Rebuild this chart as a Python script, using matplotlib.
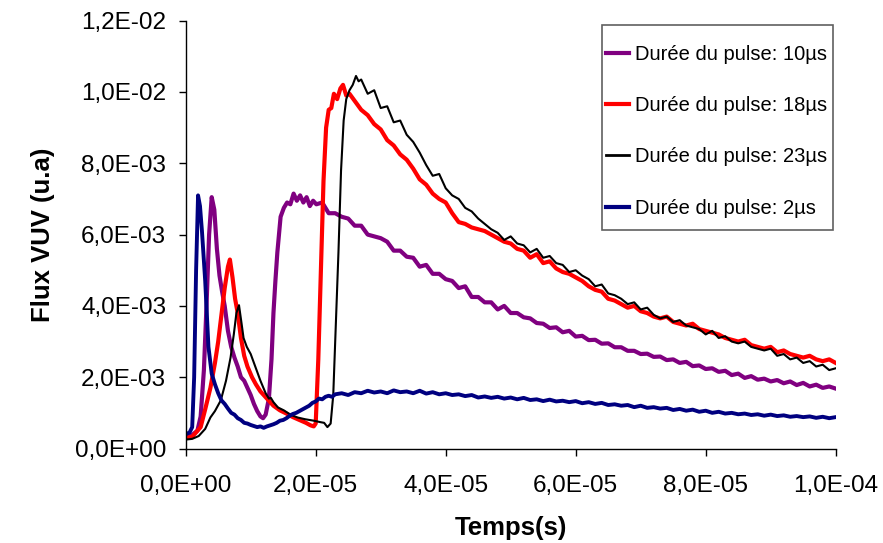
import matplotlib
matplotlib.use("Agg")
import matplotlib.pyplot as plt
from matplotlib.ticker import FuncFormatter, MultipleLocator
from matplotlib.patches import Rectangle

plt.rcParams['font.family'] = ['Liberation Sans', 'DejaVu Sans']

labels = ["Durée du pulse: 10µs", "Durée du pulse: 18µs",
          "Durée du pulse: 23µs", "Durée du pulse: 2µs"]

# time in microseconds, flux in units of 1e-3
t_purple = [0, 1, 1.8, 2.3, 2.8, 3.2, 3.6, 4.0, 4.4, 4.8, 5.2, 5.6, 6.0, 6.5, 7.0, 7.5, 8.0, 8.5, 9.0, 9.5,
            10.0, 10.5, 11.0, 11.5, 11.9, 12.3, 12.8, 13.2, 13.5, 13.8, 14.1, 14.6, 15.1, 15.6, 16.1, 16.6,
            17.1, 17.6, 18.1, 18.6, 19.1, 19.6, 20.1,
            21, 22, 23, 24, 25, 26, 27, 28, 29, 30, 31, 32, 33, 34, 35, 36, 37, 38, 39, 40,
            41, 42, 43, 44, 45, 46, 47, 48, 49, 50, 51, 52, 53, 54, 55, 56, 57, 58, 59, 60,
            61, 62, 63, 64, 65, 66, 67, 68, 69, 70, 71, 72, 73, 74, 75, 76, 77, 78, 79, 80,
            81, 82, 83, 84, 85, 86, 87, 88, 89, 90, 91, 92, 93, 94, 95, 96, 97, 98, 99, 100]
f_purple = [0.35, 0.38, 0.5, 0.9, 2.2, 4.0, 6.0, 7.05, 6.7, 5.6, 4.85, 4.4, 4.0, 3.3, 2.85, 2.55, 2.3, 2.0, 1.9, 1.7,
            1.5, 1.25, 1.05, 0.9, 0.85, 0.95, 1.4, 2.5, 3.8, 4.7, 5.5, 6.5, 6.75, 6.9, 6.85, 7.15,
            6.95, 7.1, 6.9, 7.05, 6.8, 6.95, 6.85,
            6.9, 6.6, 6.6, 6.5, 6.45, 6.25, 6.25, 6.0, 5.95, 5.9, 5.8, 5.55, 5.55, 5.38, 5.35, 5.1, 5.15, 4.9, 4.9, 4.75,
            4.7, 4.5, 4.55, 4.25, 4.25, 4.1, 4.1, 3.9, 4.0, 3.8, 3.8, 3.68, 3.65, 3.52, 3.5, 3.38, 3.4, 3.26, 3.3, 3.14,
            3.16, 3.04, 3.05, 2.94, 2.95, 2.84, 2.84, 2.74, 2.74, 2.65, 2.66, 2.57, 2.58, 2.48, 2.5, 2.4, 2.43, 2.31, 2.33, 2.23,
            2.25, 2.15, 2.18, 2.06, 2.1, 1.98, 2.03, 1.93, 1.96, 1.88, 1.92, 1.83, 1.88, 1.78, 1.84, 1.74, 1.79, 1.7, 1.74, 1.68]

t_red = [0, 1, 2.3, 3.0, 3.8, 4.5, 5.0, 5.4, 6.0, 6.5, 6.8, 7.2, 7.6, 8.0, 8.5, 9.0, 9.5, 10.2, 10.8, 11.5,
         12.5, 13.5, 14.5, 15.5, 16.5, 17.5, 18.5, 19.2, 19.7, 20.0, 20.4, 20.8, 21.2, 21.6, 22.0, 22.4,
         22.8, 23.3, 23.8, 24.2, 24.7, 25.2,
         26, 27, 28, 29, 30, 31, 32, 33, 34, 35, 36, 37, 38, 39, 40,
         41, 42, 43, 44, 45, 46, 47, 48, 49, 50, 51, 52, 53, 54, 55, 56, 57, 58, 59, 60,
         61, 62, 63, 64, 65, 66, 67, 68, 69, 70, 71, 72, 73, 74, 75, 76, 77, 78, 79, 80,
         81, 82, 83, 84, 85, 86, 87, 88, 89, 90, 91, 92, 93, 94, 95, 96, 97, 98, 99, 100]
f_red = [0.3, 0.33, 0.6, 1.1, 1.7, 2.4, 3.0, 3.6, 4.5, 5.1, 5.3, 4.8, 4.2, 3.8, 3.1, 2.6, 2.3, 2.0, 1.8, 1.6,
         1.4, 1.2, 1.07, 0.98, 0.88, 0.8, 0.72, 0.65, 0.62, 0.7, 2.5, 5.0, 7.5, 9.0, 9.5, 9.55,
         9.95, 9.8, 10.1, 10.2, 9.9, 9.95,
         9.75, 9.5, 9.35, 9.1, 8.95, 8.65, 8.5, 8.25, 8.1, 7.85, 7.55, 7.4, 7.15, 7.0, 6.9,
         6.6, 6.35, 6.3, 6.2, 6.15, 6.1, 6.0, 5.9, 5.8, 5.75, 5.6, 5.55, 5.35, 5.45, 5.2, 5.25, 5.05, 4.95, 4.9, 4.8,
         4.7, 4.55, 4.45, 4.4, 4.2, 4.15, 4.05, 3.95, 4.0, 3.85, 3.8, 3.7, 3.65, 3.7, 3.55, 3.5, 3.45, 3.5, 3.35, 3.3,
         3.25, 3.2, 3.1, 3.05, 3.0, 3.05, 2.9, 2.85, 2.8, 2.85, 2.7, 2.75, 2.65, 2.6, 2.55, 2.6, 2.5, 2.45, 2.5, 2.4]

t_black = [0, 1, 2, 3, 3.8, 4.5, 5.4, 6.2, 6.9, 7.4, 7.8, 8.2, 8.6, 8.9, 9.4, 10.0, 10.7, 11.5, 12.3, 12.8,
           13.1, 13.5, 14.2, 15.1, 16.1, 17.2, 18.4, 19.7, 20.7, 21.3, 21.8, 22.3, 22.7, 23.1, 23.5, 23.9,
           24.3, 24.7, 25.2, 25.7, 26.2, 26.6,
           27, 28, 29, 30, 31, 32, 33, 34, 35, 36, 37, 38, 39, 40,
           41, 42, 43, 44, 45, 46, 47, 48, 49, 50, 51, 52, 53, 54, 55, 56, 57, 58, 59, 60,
           61, 62, 63, 64, 65, 66, 67, 68, 69, 70, 71, 72, 73, 74, 75, 76, 77, 78, 79, 80,
           81, 82, 83, 84, 85, 86, 87, 88, 89, 90, 91, 92, 93, 94, 95, 96, 97, 98, 99, 100]
f_black = [0.25, 0.27, 0.35, 0.55, 0.87, 1.05, 1.35, 1.9, 2.55, 3.2, 3.8, 4.02, 3.5, 3.1, 2.85, 2.65, 2.3, 1.9, 1.55, 1.4,
           1.42, 1.3, 1.15, 1.07, 0.95, 0.87, 0.82, 0.78, 0.74, 0.72, 0.6, 0.7, 1.5, 3.5, 5.5, 7.8,
           9.2, 9.8, 10.05, 10.2, 10.45, 10.3,
           10.35, 9.95, 10.05, 9.55, 9.6, 9.15, 9.2, 8.8, 8.6, 8.3, 7.95, 7.65, 7.7, 7.3,
           7.1, 7.0, 6.75, 6.65, 6.45, 6.3, 6.15, 6.05, 5.85, 5.95, 5.75, 5.7, 5.5, 5.6, 5.35, 5.4, 5.2, 5.15, 4.95, 5.0,
           4.85, 4.75, 4.55, 4.6, 4.35, 4.3, 4.2, 4.05, 4.1, 3.9, 3.95, 3.75, 3.65, 3.7, 3.55, 3.6, 3.45, 3.4, 3.35, 3.2,
           3.3, 3.1, 3.15, 3.0, 2.95, 3.0, 2.85, 2.8, 2.75, 2.8, 2.6, 2.65, 2.5, 2.55, 2.4, 2.45, 2.3, 2.35, 2.2, 2.25]

t_blue = [0, 0.6, 1.0, 1.3, 1.6, 1.9, 2.2, 2.5, 3.0, 3.5, 4.0, 4.5, 5.0, 5.5, 6.0, 6.5, 7.0, 7.5, 8.0, 8.5,
          9.0, 9.5, 10.0, 10.5, 11.0, 11.5, 12.0, 12.5, 13, 13.5, 14, 14.5, 15, 15.5, 16, 16.5, 17, 17.5,
          18, 18.5, 19, 19.5, 20, 20.5, 21, 21.5, 22, 22.5, 23, 24, 25, 26, 27, 28, 29, 30,
          31, 32, 33, 34, 35, 36, 37, 38, 39, 40, 41, 42, 43, 44, 45, 46, 47, 48, 49, 50,
          51, 52, 53, 54, 55, 56, 57, 58, 59, 60, 61, 62, 63, 64, 65, 66, 67, 68, 69, 70,
          71, 72, 73, 74, 75, 76, 77, 78, 79, 80, 81, 82, 83, 84, 85, 86, 87, 88, 89, 90,
          91, 92, 93, 94, 95, 96, 97, 98, 99, 100]
f_blue = [0.4, 0.45, 0.6, 2.0, 5.0, 7.1, 6.8, 6.1, 4.7, 2.85, 2.1, 1.8, 1.55, 1.35, 1.25, 1.12, 1.0, 0.95, 0.85, 0.8,
          0.72, 0.7, 0.66, 0.63, 0.6, 0.62, 0.58, 0.62, 0.65, 0.68, 0.72, 0.78, 0.8, 0.85, 0.92, 0.97, 1.0, 1.05,
          1.1, 1.15, 1.2, 1.28, 1.32, 1.4, 1.38, 1.45, 1.48, 1.45, 1.52, 1.55, 1.5, 1.58, 1.55, 1.62, 1.57, 1.6,
          1.55, 1.63, 1.58, 1.6, 1.55, 1.62, 1.54, 1.58, 1.52, 1.55, 1.5, 1.52, 1.47, 1.5, 1.43, 1.46, 1.42, 1.45, 1.4, 1.43,
          1.38, 1.42, 1.36, 1.38, 1.33, 1.37, 1.32, 1.34, 1.3, 1.33, 1.27, 1.3, 1.25, 1.28, 1.22, 1.24, 1.2, 1.22, 1.16, 1.2,
          1.14, 1.16, 1.12, 1.14, 1.08, 1.11, 1.06, 1.09, 1.03, 1.06, 1.0, 1.03, 0.98, 1.0, 0.96, 0.98, 0.94, 0.96, 0.92, 0.95,
          0.91, 0.93, 0.89, 0.91, 0.88, 0.9, 0.86, 0.89, 0.85, 0.88]

series = [(t_purple, f_purple, '#800080', 3.0),
          (t_red, f_red, '#FF0000', 3.0),
          (t_black, f_black, '#000000', 1.5),
          (t_blue, f_blue, '#000080', 2.8)]

fig = plt.figure(figsize=(8.83, 5.43), dpi=100)
ax = fig.add_axes([185.7 / 883, 1 - 448.5 / 543, 650 / 883, 427.8 / 543])

for (t, f, c, lw), lab in zip(series, labels):
    ax.plot([v * 1e-6 for v in t], [v * 1e-3 for v in f], color=c, lw=lw, label=lab,
            solid_joinstyle='round')

ax.set_xlim(0, 1e-4)
ax.set_ylim(0, 0.012)
ax.xaxis.set_major_locator(MultipleLocator(2e-5))
ax.yaxis.set_major_locator(MultipleLocator(2e-3))
fmt = FuncFormatter(lambda v, p: f"{v:.1E}".replace('.', ','))
ax.xaxis.set_major_formatter(fmt)
ax.yaxis.set_major_formatter(fmt)
for s in ['top', 'right']:
    ax.spines[s].set_visible(False)
for s in ['left', 'bottom']:
    ax.spines[s].set_linewidth(1.0)
ax.tick_params(axis='both', direction='out', length=5, width=1, labelsize=17.5)
ax.tick_params(axis='y', pad=9)
ax.tick_params(axis='x', pad=14)

ax.set_xlabel("Temps(s)", fontsize=18.5, fontweight='bold', labelpad=14)
ax.set_ylabel("Flux VUV (u.a)", fontsize=18.5, fontweight='bold', labelpad=14)

fig.add_artist(Rectangle((602 / 883, 1 - 230 / 543), 231 / 883, 205 / 543,
                         transform=fig.transFigure, fill=False, ec='#606060', lw=1.2))
leg = ax.legend(loc='upper left', bbox_to_anchor=(606 / 883, 1 - 45 / 543),
                bbox_transform=fig.transFigure, frameon=False, fontsize=14.5,
                handlelength=1.15, handletextpad=0.3, labelspacing=1.6, borderpad=0, borderaxespad=0)
for h in leg.get_lines():
    h.set_linewidth(3.0 if h.get_color() != '#000000' else 2.0)

fig.savefig("out.png", dpi=100)
